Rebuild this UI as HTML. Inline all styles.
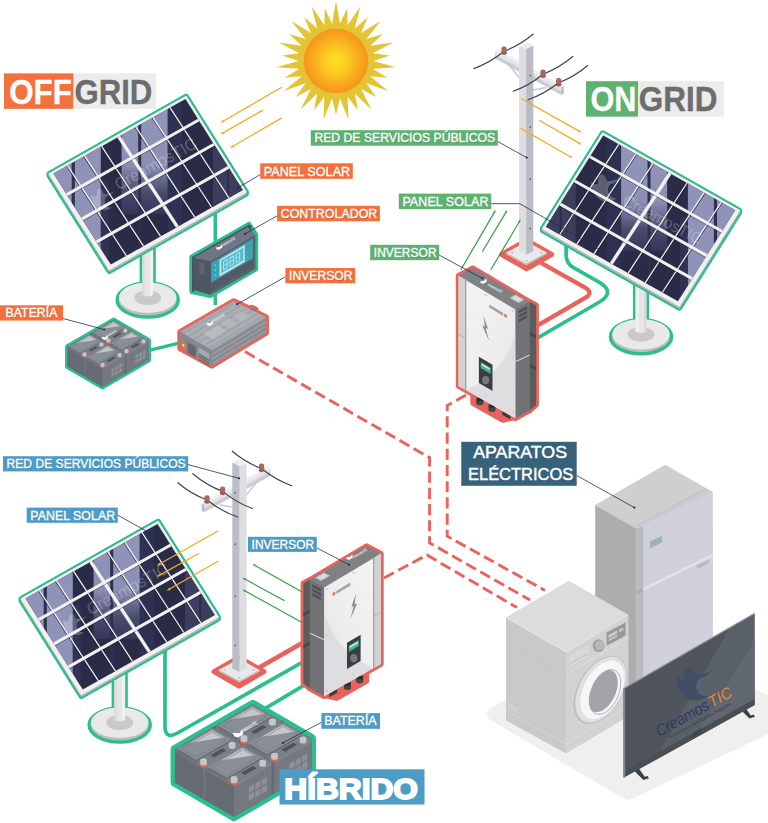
<!DOCTYPE html>
<html lang="es"><head><meta charset="utf-8"><title>Sistemas solares: Off Grid, On Grid, Híbrido</title>
<style>
html,body{margin:0;padding:0;background:#fff;}
body{width:768px;height:823px;overflow:hidden;font-family:"Liberation Sans",sans-serif;}
svg{display:block;}
</style></head><body>
<svg width="768" height="823" viewBox="0 0 768 823">
<defs><clipPath id="cellclip"><polygon points="53.5,173.5 185.5,98.9 242.7,190.0 110.8,264.6"/></clipPath><linearGradient id="band2" x1="0" y1="0" x2="0" y2="1"><stop offset="0" stop-color="#9296bb"/><stop offset="0.55" stop-color="#8b8fb4"/><stop offset="0.8" stop-color="#4a4c6e"/><stop offset="1" stop-color="#34365a"/></linearGradient><g id="panel"><polygon points="49.3,173.8 186.0,96.5 246.0,192.0 246.0,193.8 109.3,271.1 49.3,175.6" fill="#2bbf8f" stroke="#2bbf8f" stroke-width="5.4" stroke-linejoin="round"/><ellipse cx="147.7" cy="300" rx="30.6" ry="17.1" fill="#bcbcbd" stroke="#2bbf8f" stroke-width="3.3"/><ellipse cx="147.7" cy="297.6" rx="28.8" ry="15.3" fill="#e9e9ea"/><ellipse cx="147.7" cy="297.6" rx="13.4" ry="7.5" fill="#c9c9ca"/><rect x="139.6" y="240" width="16.2" height="42.6" fill="#2bbf8f"/><path d="M142.3 240 V294 a5.4 2.6 0 0 0 10.8 0 V240 Z" fill="#e6e6e7"/><path d="M149.9 240 V295.6 a5.4 2.6 0 0 0 3.2 -1.2 V240 Z" fill="#f1f1f2"/><path d="M142.3 240 V294 a5.4 2.6 0 0 0 2.4 1.4 V240 Z" fill="#dadadb"/><polygon points="49.3,173.8 186.0,96.5 246.0,192.0 246.0,193.8 109.3,271.1 49.3,175.6" fill="#2bbf8f" stroke="#2bbf8f" stroke-width="5.4" stroke-linejoin="round"/><polygon points="49.3,173.8 186.0,96.5 246.0,192.0 246.0,193.8 109.3,271.1 49.3,175.6" fill="#b1b1b3" stroke="#b1b1b3" stroke-width="1.4" stroke-linejoin="round"/><polygon points="109.3,269.3 246.0,192.0 246.0,194.5 109.3,271.8" fill="#b6b6b8" /><polygon points="49.3,173.8 186.0,96.5 246.0,192.0 109.3,269.3" fill="#f1f1f2" stroke="#f1f1f2" stroke-width="1.4" stroke-linejoin="round"/><polygon points="53.5,173.5 185.5,98.9 242.7,190.0 110.8,264.6" fill="#2a2b46" /><g clip-path="url(#cellclip)"><rect x="49" y="90" width="51.8" height="200" fill="#8f93b8"/><rect x="71.7" y="90" width="3.1" height="200" fill="#2f3050"/><rect x="121.6" y="104" width="46" height="110" fill="url(#band2)"/><rect x="138.2" y="90" width="3" height="200" fill="#2f3050"/><rect x="168" y="90" width="14" height="200" fill="#34365a" opacity="0.6"/><rect x="213" y="90" width="14.3" height="200" fill="#3c3e5e"/><rect x="228.9" y="90" width="20" height="200" fill="#3c3e5e"/><rect x="100.8" y="180" width="8" height="120" fill="#34365a" opacity="0.7"/></g><line x1="66.6" y1="166.1" x2="125.4" y2="256.3" stroke="#1a1b30" stroke-width="0.9" opacity="0.85"/><line x1="67.5" y1="165.6" x2="126.4" y2="255.8" stroke="#f1f1f2" stroke-width="1.25" /><line x1="83.6" y1="156.5" x2="142.5" y2="246.6" stroke="#1a1b30" stroke-width="0.9" opacity="0.85"/><line x1="84.6" y1="155.9" x2="143.5" y2="246.1" stroke="#f1f1f2" stroke-width="1.25" /><line x1="100.7" y1="146.8" x2="159.6" y2="237.0" stroke="#1a1b30" stroke-width="0.9" opacity="0.85"/><line x1="101.7" y1="146.3" x2="160.5" y2="236.4" stroke="#f1f1f2" stroke-width="1.25" /><line x1="134.9" y1="127.5" x2="193.8" y2="217.6" stroke="#1a1b30" stroke-width="0.9" opacity="0.85"/><line x1="135.8" y1="126.9" x2="194.7" y2="217.1" stroke="#f1f1f2" stroke-width="1.25" /><line x1="152.0" y1="117.8" x2="210.9" y2="208.0" stroke="#1a1b30" stroke-width="0.9" opacity="0.85"/><line x1="152.9" y1="117.3" x2="211.8" y2="207.5" stroke="#f1f1f2" stroke-width="1.25" /><line x1="169.1" y1="108.1" x2="228.0" y2="198.3" stroke="#1a1b30" stroke-width="0.9" opacity="0.85"/><line x1="170.0" y1="107.6" x2="228.9" y2="197.8" stroke="#f1f1f2" stroke-width="1.25" /><line x1="118.7" y1="136.6" x2="177.4" y2="226.9" stroke="#f1f1f2" stroke-width="3.4" /><line x1="67.8" y1="196.2" x2="199.7" y2="121.6" stroke="#1a1b30" stroke-width="0.8" opacity="0.55"/><line x1="66.8" y1="194.6" x2="198.7" y2="120.0" stroke="#f1f1f2" stroke-width="3.0" /><line x1="83.1" y1="220.6" x2="215.0" y2="146.0" stroke="#1a1b30" stroke-width="0.8" opacity="0.55"/><line x1="82.1" y1="218.9" x2="214.0" y2="144.3" stroke="#f1f1f2" stroke-width="3.0" /><line x1="97.6" y1="243.6" x2="229.5" y2="169.0" stroke="#1a1b30" stroke-width="0.8" opacity="0.55"/><line x1="96.6" y1="241.9" x2="228.5" y2="167.4" stroke="#f1f1f2" stroke-width="3.0" /></g><g id="pole"><polygon points="501.6,254.5 526.6,240.1 551.6,254.5 526.6,268.9" fill="#e8635b" stroke="#e8635b" stroke-width="5" stroke-linejoin="round"/><polygon points="506.1,252.7 526.6,263.8 526.6,265.4 506.1,254.3" fill="#c9cacd" /><polygon points="547.1,252.7 526.6,263.8 526.6,265.4 547.1,254.3" fill="#b4b5b9" /><polygon points="506.1,252.7 526.6,241.6 547.1,252.7 526.6,263.8" fill="#e9e9eb" /><ellipse cx="512.1" cy="252.7" rx="1.1" ry="0.7" fill="#a9aaae"/><ellipse cx="541.1" cy="252.7" rx="1.1" ry="0.7" fill="#a9aaae"/><ellipse cx="526.6" cy="260.7" rx="1.1" ry="0.7" fill="#a9aaae"/><ellipse cx="526.6" cy="244.7" rx="1.1" ry="0.7" fill="#a9aaae"/><polygon points="495.0,50.8 561.2,87.3 561.2,90.9 495.0,54.4" fill="#e3e4e8" /><polygon points="495.0,54.4 561.2,90.9 561.2,95.1 495.0,58.6" fill="#cbcdd3" /><polygon points="561.2,87.3 563.8,85.9 563.8,93.5 561.2,95.1" fill="#b9bbc1" /><polygon points="495.0,50.8 497.6,49.2 563.8,85.9 561.2,87.3" fill="#eeeff1" /><line x1="508.5" y1="64.5" x2="519.5" y2="78.0" stroke="#c9cbd0" stroke-width="1.5" /><line x1="533.0" y1="90.0" x2="546.0" y2="87.5" stroke="#c9cbd0" stroke-width="1.5" /><polygon points="519.0,46.0 526.1,48.8 526.1,254.8 519.0,251.2" fill="#dddee2" /><polygon points="526.1,48.8 533.3,45.2 533.3,251.2 526.1,254.8" fill="#bbbdc4" /><polygon points="519.0,46.0 527.6,42.2 533.3,45.2 526.1,48.8" fill="#ededf0" /><ellipse cx="530.3" cy="75.6" rx="0.8" ry="1.0" fill="#5d6068"/><ellipse cx="530.3" cy="127.0" rx="0.8" ry="1.0" fill="#5d6068"/><ellipse cx="530.3" cy="179.0" rx="0.8" ry="1.0" fill="#5d6068"/><ellipse cx="530.3" cy="228.4" rx="0.8" ry="1.0" fill="#5d6068"/><path d="M473.9 68.6 Q490.4 62.5 504.1 51.3 M504.1 51.3 Q520.1 45.2 533.3 34.0" fill="none" stroke="#3e434c" stroke-width="1.15" stroke-linecap="round"/><path d="M513.2 91.3 Q529.5 85.3 543.0 74.2 M543.0 74.2 Q559.3 67.9 572.8 56.5" fill="none" stroke="#3e434c" stroke-width="1.15" stroke-linecap="round"/><path d="M528.0 99.8 Q544.7 93.9 558.5 82.8 M558.5 82.8 Q574.5 76.8 587.7 65.5" fill="none" stroke="#3e434c" stroke-width="1.15" stroke-linecap="round"/><rect x="501.4" y="46.4" width="5.2" height="8.6" rx="2.2" fill="#a3695f"/><rect x="501.0" y="52.6" width="6" height="1" rx="0.5" fill="#8c574e"/><rect x="540.4" y="69.4" width="5.2" height="8.6" rx="2.2" fill="#a3695f"/><rect x="540.0" y="75.6" width="6" height="1" rx="0.5" fill="#8c574e"/><rect x="556.0" y="78.0" width="5.2" height="8.6" rx="2.2" fill="#a3695f"/><rect x="555.6" y="84.2" width="6" height="1" rx="0.5" fill="#8c574e"/></g><linearGradient id="invf" x1="0" y1="0" x2="1" y2="1"><stop offset="0" stop-color="#f4f4f4"/><stop offset="0.6" stop-color="#ededed"/><stop offset="1" stop-color="#e2e2e3"/></linearGradient><clipPath id="invclip"><polygon points="458.6,275.8 515.4,309.5 515.4,418.3 458.6,386.0"/></clipPath><g id="inverter"><path d="M472.8 393.2 l0 10 l30 17 l14 -3 l0 -12z" fill="#e8635b" stroke="#e8635b" stroke-width="5" stroke-linejoin="round"/><polygon points="458.6,275.8 472.8,268.1 529.6,301.8 536.1,305.2 536.1,405.0 529.6,410.6 515.4,418.3 458.6,386.0" fill="#717275" stroke="#e8635b" stroke-width="5.6" stroke-linejoin="round"/><path d="M476.4 397.8 v5 a3.4 2.2 0 0 0 6.8 0 v-5z" fill="#2e2f33"/><ellipse cx="479.8" cy="403.2" rx="3.4" ry="2" fill="#45464b"/><path d="M488.6 404.4 v5 a3.4 2.2 0 0 0 6.8 0 v-5z" fill="#2e2f33"/><ellipse cx="492.0" cy="409.8" rx="3.4" ry="2" fill="#45464b"/><polygon points="502.3,411.3 510.3,415.9 510.3,419.3 502.3,414.7" fill="#3a3b40" /><polygon points="529.6,301.8 536.1,305.2 536.1,405.0 529.6,410.6" fill="#5a5c60" /><polygon points="529.6,331.8 536.1,335.2 536.1,338.2 529.6,334.8" fill="#46484c" /><polygon points="529.6,363.8 536.1,367.2 536.1,370.2 529.6,366.8" fill="#46484c" /><polygon points="515.4,309.5 529.6,301.8 529.6,410.6 515.4,418.3" fill="#717275" /><polygon points="458.6,275.8 472.8,268.1 529.6,301.8 515.4,309.5" fill="#808184" /><polygon points="458.6,275.8 515.4,309.5 515.4,418.3 458.6,386.0" fill="url(#invf)" /><g clip-path="url(#invclip)"><path d="M466.2 390.3 Q505.6 372.4 515.4 333.1 L515.4 418.3 L466.2 390.3 Z" fill="#dedee0"/></g><polygon points="458.6,275.8 465.8,280.1 465.8,390.1 458.6,386.0" fill="#d2d2d4" /><line x1="465.8" y1="280.1" x2="465.8" y2="390.1" stroke="#8f9093" stroke-width="1.0" /><line x1="458.6" y1="334.2" x2="465.8" y2="338.4" stroke="#a5a6a9" stroke-width="0.7" /><line x1="515.4" y1="361.7" x2="529.6" y2="355.1" stroke="#f0f0f0" stroke-width="0.9" /><polygon points="518.6,310.9 527.2,306.2 527.2,308.7 518.6,313.4" fill="#4d4e52" /><polygon points="518.6,315.3 527.2,310.6 527.2,313.1 518.6,317.8" fill="#4d4e52" /><polygon points="518.6,319.7 527.2,315.0 527.2,317.5 518.6,322.2" fill="#4d4e52" /><circle cx="460.8" cy="280.2" r="0.9" fill="#fafafa" stroke="#a9aaad" stroke-width="0.5"/><circle cx="485.9" cy="294.8" r="0.9" fill="#fafafa" stroke="#a9aaad" stroke-width="0.5"/><circle cx="512.8" cy="310.8" r="0.9" fill="#fafafa" stroke="#a9aaad" stroke-width="0.5"/><circle cx="460.8" cy="327.6" r="0.9" fill="#fafafa" stroke="#a9aaad" stroke-width="0.5"/><circle cx="512.8" cy="357.5" r="0.9" fill="#fafafa" stroke="#a9aaad" stroke-width="0.5"/><circle cx="460.8" cy="382.2" r="0.9" fill="#fafafa" stroke="#a9aaad" stroke-width="0.5"/><circle cx="485.9" cy="396.4" r="0.9" fill="#fafafa" stroke="#a9aaad" stroke-width="0.5"/><circle cx="512.8" cy="412.8" r="0.9" fill="#fafafa" stroke="#a9aaad" stroke-width="0.5"/><path d="M483.5 315.7 l4.6 13.2 l-2.4 -0.8 l3.4 13 l-6.8 -15.6 l2.6 0.9z" fill="#8b8c8f"/><polygon points="489.2,304.6 503.2,312.9 503.2,315.9 489.2,307.6" fill="#a2a3a6" /><polygon points="504.3,313.4 506.9,314.9 506.9,318.1 504.3,316.6" fill="#e8703e" /><polygon points="478.9,356.7 492.5,364.7 492.5,390.9 478.9,382.9" fill="#3c3d42" /><polygon points="480.7,361.9 490.7,367.8 490.7,373.9 480.7,368.0" fill="#3fb58e" /><polygon points="481.7,363.5 489.7,368.2 489.7,370.1 481.7,365.4" fill="#c9efe0" /><ellipse cx="485.7" cy="380.1" rx="3.6" ry="4.2" fill="#77787c"/><polygon points="509.5,297.7 515.5,294.5 524.5,299.8 518.5,303.0" fill="#c4c5c7" /><polygon points="511.7,297.9 515.5,295.8 522.1,299.7 518.3,301.8" fill="#dcdcdd" /></g><g id="battery"><polygon points="67.6,346.8 113.7,320.2 148.4,340.4 148.4,360.0 102.4,386.8 67.6,366.5" fill="#2bbf8f" stroke="#2bbf8f" stroke-width="5.2" stroke-linejoin="round"/><polygon points="67.6,346.8 113.7,320.2 148.4,340.4 148.4,360.0 102.4,386.8 67.6,366.5" fill="#5b5f67" /><polygon points="91.5,333.0 108.3,342.8 108.3,362.5 91.5,352.7" fill="#676c74" /><polygon points="108.3,342.8 130.5,330.0 130.5,349.6 108.3,362.5" fill="#747981" /><polygon points="91.5,333.0 108.3,342.8 108.3,344.8 91.5,335.0" fill="#70757d" /><polygon points="108.3,342.8 130.5,330.0 130.5,332.0 108.3,344.8" fill="#7f848c" /><polygon points="91.5,333.0 113.7,320.2 130.5,330.0 108.3,342.8" fill="#7b8088" /><polygon points="93.1,333.8 113.5,322.0 124.6,328.5 104.1,340.3" fill="#646971" /><polygon points="93.1,332.9 113.5,321.1 124.6,327.6 104.1,339.4" fill="#8a8f96" /><polygon points="100.7,329.1 113.4,321.8 120.6,326.0" fill="#c6c7ca" /><polygon points="95.7,332.9 113.5,322.6 121.9,327.6 104.1,337.8" fill="none" stroke="#747981" stroke-width="0.35"/><polygon points="112.5,336.5 119.6,332.4 121.8,333.7 114.7,337.8" fill="#4e535b" /><polygon points="117.2,344.9 120.3,343.1 120.3,346.7 117.2,348.5" fill="#8c9198" /><polygon points="117.2,349.5 120.3,347.7 120.3,351.3 117.2,353.1" fill="#8c9198" /><polygon points="121.0,342.7 124.1,340.9 124.1,344.5 121.0,346.3" fill="#8c9198" /><polygon points="121.0,347.3 124.1,345.5 124.1,349.1 121.0,350.9" fill="#8c9198" /><polygon points="124.7,340.5 127.9,338.7 127.9,342.3 124.7,344.1" fill="#8c9198" /><polygon points="124.7,345.1 127.9,343.3 127.9,346.9 124.7,348.7" fill="#8c9198" /><ellipse cx="108.4" cy="342.0" rx="2.5" ry="1.6" fill="#e8604f"/><path d="M106.4 341.4 v-1.8 a2 1.2 0 0 1 4 0 v1.8 a2 1.2 0 0 1 -4 0z" fill="#c4c6ca"/><path d="M123.3 331.6 v-1.8 a2 1.2 0 0 1 4 0 v1.8 a2 1.2 0 0 1 -4 0z" fill="#c4c6ca"/><polygon points="67.6,346.8 84.4,356.6 84.4,376.3 67.6,366.5" fill="#676c74" /><polygon points="84.4,356.6 106.6,343.8 106.6,363.4 84.4,376.3" fill="#747981" /><polygon points="67.6,346.8 84.4,356.6 84.4,358.6 67.6,348.8" fill="#70757d" /><polygon points="84.4,356.6 106.6,343.8 106.6,345.8 84.4,358.6" fill="#7f848c" /><polygon points="67.6,346.8 89.8,334.0 106.6,343.8 84.4,356.6" fill="#7b8088" /><polygon points="69.2,347.6 89.6,335.8 100.7,342.3 80.2,354.1" fill="#646971" /><polygon points="69.2,346.7 89.6,334.9 100.7,341.4 80.2,353.2" fill="#8a8f96" /><polygon points="76.8,342.9 89.5,335.6 96.7,339.8" fill="#c6c7ca" /><polygon points="71.8,346.7 89.6,336.5 98.0,341.4 80.2,351.6" fill="none" stroke="#747981" stroke-width="0.35"/><polygon points="88.6,350.3 95.7,346.2 97.9,347.5 90.8,351.6" fill="#4e535b" /><polygon points="93.3,358.7 96.4,356.9 96.4,360.5 93.3,362.3" fill="#8c9198" /><polygon points="93.3,363.3 96.4,361.5 96.4,365.1 93.3,366.9" fill="#8c9198" /><polygon points="97.1,356.5 100.2,354.7 100.2,358.3 97.1,360.1" fill="#8c9198" /><polygon points="97.1,361.1 100.2,359.3 100.2,362.9 97.1,364.7" fill="#8c9198" /><polygon points="100.8,354.3 104.0,352.5 104.0,356.1 100.8,357.9" fill="#8c9198" /><polygon points="100.8,358.9 104.0,357.1 104.0,360.7 100.8,362.5" fill="#8c9198" /><ellipse cx="84.5" cy="355.8" rx="2.5" ry="1.6" fill="#e8604f"/><path d="M82.5 355.2 v-1.8 a2 1.2 0 0 1 4 0 v1.8 a2 1.2 0 0 1 -4 0z" fill="#c4c6ca"/><path d="M99.4 345.4 v-1.8 a2 1.2 0 0 1 4 0 v1.8 a2 1.2 0 0 1 -4 0z" fill="#c4c6ca"/><polygon points="109.5,343.6 126.3,353.4 126.3,373.0 109.5,363.2" fill="#676c74" /><polygon points="126.3,353.4 148.6,340.5 148.6,360.2 126.3,373.0" fill="#747981" /><polygon points="109.5,343.6 126.3,353.4 126.3,355.4 109.5,345.6" fill="#70757d" /><polygon points="126.3,353.4 148.6,340.5 148.6,342.5 126.3,355.4" fill="#7f848c" /><polygon points="109.5,343.6 131.8,330.7 148.6,340.5 126.3,353.4" fill="#7b8088" /><polygon points="111.1,344.3 131.6,332.5 142.6,339.0 122.2,350.8" fill="#646971" /><polygon points="111.1,343.4 131.6,331.6 142.6,338.1 122.2,349.9" fill="#8a8f96" /><polygon points="118.7,339.6 131.4,332.3 138.6,336.5" fill="#c6c7ca" /><polygon points="113.8,343.5 131.6,333.2 140.0,338.1 122.2,348.4" fill="none" stroke="#747981" stroke-width="0.35"/><polygon points="130.5,347.0 137.6,342.9 139.8,344.2 132.7,348.3" fill="#4e535b" /><polygon points="135.2,355.4 138.3,353.6 138.3,357.2 135.2,359.0" fill="#8c9198" /><polygon points="135.2,360.0 138.3,358.2 138.3,361.8 135.2,363.6" fill="#8c9198" /><polygon points="139.0,353.3 142.1,351.5 142.1,355.1 139.0,356.9" fill="#8c9198" /><polygon points="139.0,357.9 142.1,356.1 142.1,359.7 139.0,361.5" fill="#8c9198" /><polygon points="142.8,351.1 145.9,349.3 145.9,352.9 142.8,354.7" fill="#8c9198" /><polygon points="142.8,355.7 145.9,353.9 145.9,357.5 142.8,359.3" fill="#8c9198" /><ellipse cx="126.5" cy="352.5" rx="2.5" ry="1.6" fill="#e8604f"/><path d="M124.5 351.9 v-1.8 a2 1.2 0 0 1 4 0 v1.8 a2 1.2 0 0 1 -4 0z" fill="#c4c6ca"/><path d="M141.4 342.2 v-1.8 a2 1.2 0 0 1 4 0 v1.8 a2 1.2 0 0 1 -4 0z" fill="#c4c6ca"/><polygon points="85.6,357.4 102.4,367.2 102.4,386.8 85.6,377.0" fill="#676c74" /><polygon points="102.4,367.2 124.7,354.3 124.7,374.0 102.4,386.8" fill="#747981" /><polygon points="85.6,357.4 102.4,367.2 102.4,369.2 85.6,359.4" fill="#70757d" /><polygon points="102.4,367.2 124.7,354.3 124.7,356.3 102.4,369.2" fill="#7f848c" /><polygon points="85.6,357.4 107.9,344.5 124.7,354.3 102.4,367.2" fill="#7b8088" /><polygon points="87.2,358.2 107.7,346.3 118.7,352.8 98.3,364.6" fill="#646971" /><polygon points="87.2,357.3 107.7,345.4 118.7,351.9 98.3,363.7" fill="#8a8f96" /><polygon points="94.8,353.4 107.5,346.1 114.7,350.3" fill="#c6c7ca" /><polygon points="89.9,357.3 107.7,347.0 116.1,351.9 98.3,362.2" fill="none" stroke="#747981" stroke-width="0.35"/><polygon points="106.6,360.8 113.7,356.7 115.9,358.0 108.8,362.1" fill="#4e535b" /><polygon points="111.3,369.2 114.4,367.4 114.4,371.0 111.3,372.8" fill="#8c9198" /><polygon points="111.3,373.8 114.4,372.0 114.4,375.6 111.3,377.4" fill="#8c9198" /><polygon points="115.1,367.1 118.2,365.3 118.2,368.9 115.1,370.7" fill="#8c9198" /><polygon points="115.1,371.7 118.2,369.9 118.2,373.5 115.1,375.3" fill="#8c9198" /><polygon points="118.9,364.9 122.0,363.1 122.0,366.7 118.9,368.5" fill="#8c9198" /><polygon points="118.9,369.5 122.0,367.7 122.0,371.3 118.9,373.1" fill="#8c9198" /><ellipse cx="102.6" cy="366.3" rx="2.5" ry="1.6" fill="#e8604f"/><path d="M100.6 365.7 v-1.8 a2 1.2 0 0 1 4 0 v1.8 a2 1.2 0 0 1 -4 0z" fill="#c4c6ca"/><path d="M117.5 356.0 v-1.8 a2 1.2 0 0 1 4 0 v1.8 a2 1.2 0 0 1 -4 0z" fill="#c4c6ca"/><path d="M101.6 337.1 l4 0.2 l1.8 -2.2 l0.6 2.8 l-3 2 l-2.2 -0.6z" fill="#fff"/><text transform="translate(107.1 337.3) rotate(-29.5)" font-family="'Liberation Sans',sans-serif" font-style="italic" font-weight="bold" font-size="3.4" fill="#eef0f3" textLength="11" lengthAdjust="spacingAndGlyphs">creamosTIC</text></g><radialGradient id="sung" cx="0.5" cy="0.5" r="0.5"><stop offset="0" stop-color="#fcdf26"/><stop offset="0.3" stop-color="#fbd021"/><stop offset="0.75" stop-color="#f9a81c"/><stop offset="1" stop-color="#f7941d"/></radialGradient><clipPath id="tvclip"><polygon points="623.7,688.5 754.5,613.5 754.5,705.0 623.7,777.6"/></clipPath></defs>
<rect width="768" height="823" fill="#ffffff"/>
<polygon points="332.1,23.7 336.0,1.0 339.9,23.7 347.2,8.2 347.6,25.3 360.4,6.2 354.8,28.5 367.7,17.3 361.1,33.1 380.6,20.9 366.3,39.0 382.8,34.0 370.3,45.7 393.1,42.5 372.7,53.2 389.7,55.4 373.5,61.0 395.7,67.3 372.7,68.8 387.4,77.7 370.3,76.3 388.0,91.0 366.3,83.0 376.1,97.1 361.1,88.9 371.3,109.5 354.8,93.5 358.0,110.3 347.6,96.7 348.5,119.7 339.9,98.3 336.0,115.0 332.1,98.3 323.5,119.7 324.4,96.7 314.0,110.3 317.2,93.5 300.7,109.5 310.9,88.9 295.9,97.1 305.7,83.0 284.0,91.0 301.7,76.3 284.6,77.7 299.3,68.8 276.3,67.3 298.5,61.0 282.3,55.4 299.3,53.2 278.9,42.5 301.7,45.7 289.2,34.0 305.7,39.0 291.4,20.9 310.9,33.1 304.3,17.3 317.2,28.5 311.6,6.2 324.4,25.3 324.8,8.2" fill="#e4c334" /><circle cx="336.0" cy="61.0" r="32.2" fill="url(#sung)"/><polygon points="494.0,714.0 640.0,632.0 790.0,716.0 628.0,793.0" fill="#efefef" stroke="#efefef" stroke-width="14" stroke-linejoin="round"/><polygon points="595.2,505.1 636.8,528.8 636.8,722.0 595.2,700.0" fill="#adadae" /><polygon points="636.8,528.8 712.9,492.1 712.9,660.0 636.8,722.0" fill="#cfd0dc" /><polygon points="636.8,528.8 643.2,525.8 643.2,718.0 636.8,722.0" fill="#b9bac4" /><polygon points="595.2,505.1 665.2,464.7 712.9,492.1 636.8,528.8" fill="#cfcfd0" /><polygon points="636.8,528.8 712.9,492.1 706.2,488.4 636.8,525.6" fill="#c9cad3" /><line x1="636.8" y1="525.6" x2="706.2" y2="488.4" stroke="#b4b8c4" stroke-width="0.7" /><line x1="595.2" y1="505.1" x2="636.8" y2="528.8" stroke="#c2c2c3" stroke-width="0.8" /><polygon points="643.2,587.8 712.9,553.4 712.9,556.6 643.2,591.0" fill="#e2e2e0" /><polygon points="636.8,590.6 643.2,587.6 643.2,591.2 636.8,594.2" fill="#a9abb6" /><polygon points="649.8,541.8 662.0,535.7 662.0,542.5 649.8,548.4" fill="#9db3b4" /><polygon points="696.3,565.0 708.5,559.7 709.3,563.1 697.0,569.2" fill="#b9bac2" /><polygon points="506.0,617.4 566.1,652.1 566.1,753.5 506.0,720.3" fill="#c9c9ca" /><polygon points="566.1,652.1 628.4,614.8 628.4,716.2 566.1,753.5" fill="#d2d2d3" /><polygon points="506.0,617.4 568.8,580.8 628.4,614.8 566.1,652.1" fill="#dcdcdc" /><line x1="506.0" y1="617.4" x2="566.1" y2="652.1" stroke="#e6e6e6" stroke-width="1" /><line x1="566.1" y1="652.1" x2="628.4" y2="614.8" stroke="#e6e6e6" stroke-width="1" /><line x1="566.1" y1="674.6" x2="628.4" y2="637.3" stroke="#dededf" stroke-width="1.2" /><line x1="506.0" y1="642.4" x2="566.1" y2="677.1" stroke="#c0c0c1" stroke-width="0.6" /><line x1="566.1" y1="744.1" x2="628.4" y2="706.8" stroke="#dededf" stroke-width="1.0" /><line x1="506.0" y1="710.4" x2="566.1" y2="744.1" stroke="#d6d6d7" stroke-width="1.0" /><polygon points="508.5,702.0 519.0,708.0 519.0,714.0 508.5,708.0" fill="#cfcfd0" /><polygon points="606.6,632.6 625.6,622.4 625.6,635.6 606.6,645.8" fill="#98989a" /><polygon points="608.6,635.0 617.0,630.4 617.0,633.4 608.6,638.0" fill="#cfcfd0" /><polygon points="608.6,639.0 617.0,634.4 617.0,637.0 608.6,641.6" fill="#c4c4c6" /><polygon points="619.0,629.6 623.4,627.2 623.4,630.0 619.0,632.4" fill="#c4c4c6" /><ellipse cx="598.6" cy="645.6" rx="6" ry="6.4" fill="#a4a4a6"/><ellipse cx="599.6" cy="645.2" rx="4.4" ry="4.8" fill="#b9b9bb"/><polygon points="570.0,655.0 589.0,644.6 589.0,656.0 570.0,666.6" fill="#d8d8d9" /><line x1="571.0" y1="663.0" x2="588.0" y2="653.6" stroke="#b9b9bb" stroke-width="0.8" /><g transform="translate(600.8 689.6) skewY(-29) "><ellipse cx="-0.6" cy="0" rx="26.6" ry="30.6" fill="#bcbcbe"/><ellipse cx="0" cy="0" rx="25.6" ry="29.8" fill="#dfe0e3"/><ellipse cx="1.6" cy="1.2" rx="22.2" ry="26.6" fill="#f6f6f7"/><ellipse cx="4.2" cy="4.7" rx="15.8" ry="20.7" fill="#a2a4a8"/><clipPath id="glassclip"><ellipse cx="4.2" cy="4.7" rx="15.8" ry="20.7"/></clipPath><g clip-path="url(#glassclip)"><ellipse cx="4.2" cy="4.7" rx="15.8" ry="20.7" fill="#f6f6f7"/><ellipse cx="1.6" cy="2.4" rx="15.4" ry="19.4" fill="#a2a4a8"/><rect x="-14" y="-20" width="22" height="30" fill="#a2a4a8"/></g><ellipse cx="4.2" cy="4.7" rx="15.8" ry="20.7" fill="none" stroke="#a9abaf" stroke-width="0.7"/></g><path d="M633.4 770 l10 10 l5.6 -1.8 l-1.4 -2.2 l-2.8 0.8 l-6.6 -9.4z" fill="#3b4047"/><path d="M739.4 708.6 l10 10 l5.6 -1.8 l-1.4 -2.2 l-2.8 0.8 l-6.6 -9.4z" fill="#3b4047"/><polygon points="623.7,688.5 754.5,613.5 754.5,705.0 623.7,777.6" fill="#50555d" /><g clip-path="url(#tvclip)"><polygon points="739.5,610.0 760.0,600.0 760.0,720.0 654.0,762.0" fill="#5a6068" /><polygon points="754.5,640.0 760.0,640.0 760.0,720.0 690.0,745.0" fill="#61676f" /><polygon points="623.7,771.6 754.5,699.0 754.5,706.0 623.7,778.6" fill="#494e55" /></g><line x1="624.2" y1="688.5" x2="624.2" y2="777.6" stroke="#7e858e" stroke-width="2.0" /><line x1="623.7" y1="688.5" x2="754.5" y2="613.5" stroke="#8d949c" stroke-width="1.4" /><path transform="translate(693.8 683.4) scale(1.00)" d="M-18.7,-7.9 C-18,2 -13,12 -5.7,15.6 C1,18 9,16.5 14.1,12.4 C8,13.5 2.5,9 2.5,2.5 C2.5,-1.5 4,-4 6.5,-5 C11,-6.5 15,-9 18.8,-13.1 C13,-10 7,-8.6 0.6,-8.4 C1,-10 0.5,-11.5 -0.5,-12.6 C-1.5,-16 -4,-17.5 -6.5,-16.5 C-9.5,-15 -10.5,-10 -9.8,-5.3 C-12,-4 -15.5,-5 -18.7,-7.9Z" fill="#424e64" /><path transform="translate(693.8 683.4)" d="M6.5,-5 C3.5,-3.5 2.5,0 2.5,2.5 C2.5,9 8,13.5 14.1,12.4 C10,11 7.2,7 7.2,2.6 C7.2,-1 8.6,-3.6 11,-6.3Z" fill="#566279"/><polygon points="692.6,733.0 701.2,728.2 701.2,732.6 692.6,737.4" fill="#40454d" /><g transform="translate(659.2 737.0) rotate(-29.1)"><text x="0" y="0" font-family="'Liberation Sans',sans-serif" font-style="italic" font-size="15.8" fill="#2d3a5e" textLength="58.6" lengthAdjust="spacingAndGlyphs">Creamos</text><text x="60.2" y="0" font-family="'Liberation Sans',sans-serif" font-style="italic" font-size="15.8" fill="#de8a3c" textLength="24.6" lengthAdjust="spacingAndGlyphs">TIC</text><text x="8.4" y="6.8" font-family="'Liberation Sans',sans-serif" font-style="italic" font-size="4.6" fill="#2d3a5e" textLength="70" lengthAdjust="spacingAndGlyphs">Soluciones Avanzadas Seguras</text></g><path d="M245 351.6 L429.6 457.6 V542.8 L530 600" fill="none" stroke="#e8635b" stroke-width="2.9" stroke-dasharray="11.2 5"/><path d="M466 395 L447.2 405.5 V536.2 L545 590.4" fill="none" stroke="#e8635b" stroke-width="2.9" stroke-dasharray="11.2 5"/><path d="M384 578 L426.9 555 L517 607.6" fill="none" stroke="#e8635b" stroke-width="2.9" stroke-dasharray="11.2 5"/><path d="M215.3 205 V305" fill="none" stroke="#2bbf8f" stroke-width="3.6"/><path d="M148 350.6 L182 342.4" fill="none" stroke="#2bbf8f" stroke-width="3.2"/><use href="#panel"/><g opacity="0.24" fill="#ffffff"><path transform="translate(103.0 199.5) scale(0.64)" d="M-18.7,-7.9 C-18,2 -13,12 -5.7,15.6 C1,18 9,16.5 14.1,12.4 C8,13.5 2.5,9 2.5,2.5 C2.5,-1.5 4,-4 6.5,-5 C11,-6.5 15,-9 18.8,-13.1 C13,-10 7,-8.6 0.6,-8.4 C1,-10 0.5,-11.5 -0.5,-12.6 C-1.5,-16 -4,-17.5 -6.5,-16.5 C-9.5,-15 -10.5,-10 -9.8,-5.3 C-12,-4 -15.5,-5 -18.7,-7.9Z" fill="#ffffff" /><g transform="translate(118.4 190.6) rotate(-28.6)"><text x="0" y="0" font-family="'Liberation Sans',sans-serif" font-size="16.4" textLength="91" lengthAdjust="spacingAndGlyphs">CreamosTIC</text><text x="13" y="6.6" font-family="'Liberation Sans',sans-serif" font-size="5" textLength="68" lengthAdjust="spacingAndGlyphs">Soluciones Avanzadas Seguras</text></g></g><polygon points="192.0,257.1 249.0,224.6 255.5,234.7 255.5,268.9 210.2,295.3 192.0,291.4" fill="#4b515d" stroke="#2bbf8f" stroke-width="5.4" stroke-linejoin="round"/><polygon points="192.0,257.1 249.0,224.6 251.4,225.6 251.4,232.1 194.3,264.7 194.3,292.0 192.0,291.4" fill="#4b515d" /><polygon points="193.5,257.9 247.7,226.9 255.5,235.0 210.7,261.6" fill="#6d7684" /><polygon points="193.5,257.9 210.7,261.6 210.7,294.9 193.5,289.7" fill="#4f5562" /><polygon points="199.5,262.1 204.5,263.4 204.5,275.1 199.5,273.5" fill="#5d6472" /><polygon points="210.7,261.6 255.5,235.0 255.5,268.9 210.7,294.9" fill="#5a6270" /><polygon points="211.2,263.1 252.9,238.6 252.9,258.4 211.2,282.4" fill="#3aa3b4" /><polygon points="219.5,259.7 244.8,244.9 244.8,261.8 219.5,276.4" fill="#bfeaf0" /><polygon points="221.1,260.5 243.3,247.8 243.3,260.5 221.1,273.3" fill="#56bccb" /><path d="M223.6 261.4 l3.6 -2.1 v8.4 l-3.6 2.1z" fill="none" stroke="#d9f6fa" stroke-width="0.7"/><line x1="223.6" y1="265.6" x2="227.3" y2="263.5" stroke="#d9f6fa" stroke-width="0.6" /><path d="M229.9 257.9 l3.6 -2.1 v8.4 l-3.6 2.1z" fill="none" stroke="#d9f6fa" stroke-width="0.7"/><line x1="229.9" y1="262.0" x2="233.5" y2="259.9" stroke="#d9f6fa" stroke-width="0.6" /><path d="M236.1 254.3 l3.6 -2.1 v8.4 l-3.6 2.1z" fill="none" stroke="#d9f6fa" stroke-width="0.7"/><line x1="236.1" y1="258.4" x2="239.8" y2="256.4" stroke="#d9f6fa" stroke-width="0.6" /><circle cx="247.7" cy="247.1" r="0.9" fill="#e6604f"/><circle cx="247.7" cy="252.3" r="0.9" fill="#d98a7a"/><circle cx="247.7" cy="257.5" r="0.9" fill="#d98a7a"/><circle cx="215.4" cy="265.3" r="0.8" fill="#8fd3dd"/><circle cx="215.4" cy="270.3" r="0.8" fill="#8fd3dd"/><circle cx="215.4" cy="275.2" r="0.8" fill="#8fd3dd"/><path d="M215.5 247.4 l4.2 -0.4 l2.4 -2.8 l0.2 3.4 l-3.2 2.2 l-2 -0.4z" fill="#fff"/><text transform="translate(222.3 246.7) rotate(-30)" font-family="'Liberation Sans',sans-serif" font-style="italic" font-weight="bold" font-size="4" fill="#eef0f3" textLength="15.5" lengthAdjust="spacingAndGlyphs">creamosTIC</text><polygon points="211.2,282.9 252.9,259.0 252.9,267.3 211.2,291.2" fill="#525a67" /><polygon points="180.0,331.8 233.8,300.9 249.1,308.3 251.9,307.5 255.7,309.2 256.8,312.3 266.3,317.2 266.3,333.0 211.8,365.9 180.0,348.6" fill="#8f9399" stroke="#e8635b" stroke-width="5.4" stroke-linejoin="round"/><polygon points="249.1,308.6 251.9,307.8 255.4,309.3 256.5,312.3 253.1,311.5" fill="#7b8087" /><polygon points="180.0,331.8 233.8,300.9 266.3,317.2 211.8,350.2" fill="#a7abb0" /><line x1="182.7" y1="333.4" x2="236.5" y2="302.2" stroke="#95999f" stroke-width="0.6" /><line x1="185.3" y1="334.9" x2="239.2" y2="303.6" stroke="#b6b9bd" stroke-width="0.6" /><line x1="188.0" y1="336.4" x2="241.9" y2="305.0" stroke="#95999f" stroke-width="0.6" /><line x1="190.6" y1="337.9" x2="244.6" y2="306.3" stroke="#b6b9bd" stroke-width="0.6" /><line x1="193.3" y1="339.5" x2="247.3" y2="307.7" stroke="#95999f" stroke-width="0.6" /><line x1="195.9" y1="341.0" x2="250.0" y2="309.1" stroke="#b6b9bd" stroke-width="0.6" /><line x1="198.6" y1="342.5" x2="252.7" y2="310.4" stroke="#95999f" stroke-width="0.6" /><line x1="201.2" y1="344.1" x2="255.4" y2="311.8" stroke="#b6b9bd" stroke-width="0.6" /><line x1="203.9" y1="345.6" x2="258.1" y2="313.1" stroke="#95999f" stroke-width="0.6" /><line x1="206.5" y1="347.1" x2="260.9" y2="314.5" stroke="#b6b9bd" stroke-width="0.6" /><line x1="209.2" y1="348.6" x2="263.6" y2="315.9" stroke="#95999f" stroke-width="0.6" /><polygon points="203.1,333.8 217.2,325.5 226.8,330.8 212.7,339.2" fill="#b9bcc0" /><polygon points="220.4,323.6 229.0,318.6 238.7,323.7 230.0,328.8" fill="#b3b6ba" /><polygon points="232.3,316.6 240.9,311.6 250.7,316.5 242.0,321.7" fill="#b3b6ba" /><path d="M206.0 323.2 l4.6 -0.2 l2.2 -2.6 l0.4 3.2 l-3.4 2.4 l-2.2 -0.6z" fill="#fff"/><text transform="translate(212.5 322.8) rotate(-29.5)" font-family="'Liberation Sans',sans-serif" font-style="italic" font-weight="bold" font-size="4" fill="#eef0f3" textLength="14.5" lengthAdjust="spacingAndGlyphs">creamosTIC</text><polygon points="211.8,350.2 266.3,317.2 266.3,333.0 211.8,365.9" fill="#8f9399" /><line x1="211.8" y1="352.4" x2="266.3" y2="319.5" stroke="#777b82" stroke-width="0.6" /><line x1="211.8" y1="354.7" x2="266.3" y2="321.7" stroke="#a3a6ab" stroke-width="0.6" /><line x1="211.8" y1="356.9" x2="266.3" y2="324.0" stroke="#777b82" stroke-width="0.6" /><line x1="211.8" y1="359.2" x2="266.3" y2="326.2" stroke="#a3a6ab" stroke-width="0.6" /><line x1="211.8" y1="361.4" x2="266.3" y2="328.5" stroke="#777b82" stroke-width="0.6" /><line x1="211.8" y1="363.7" x2="266.3" y2="330.7" stroke="#a3a6ab" stroke-width="0.6" /><polygon points="180.0,331.8 211.8,350.2 211.8,365.9 180.0,347.6" fill="#858a91" /><polygon points="181.5,339.4 185.1,341.5 185.1,350.0 181.5,347.9" fill="#e8703e" /><polygon points="182.3,343.6 184.3,344.8 184.3,347.0 182.3,345.8" fill="#fbe3d6" /><polygon points="187.5,341.9 195.9,346.8 195.9,357.9 187.5,353.0" fill="#646971" /><polygon points="198.7,347.6 209.1,353.6 209.1,358.8 198.7,352.8" fill="#a6aaaf" /><line x1="199.1" y1="354.8" x2="208.9" y2="360.5" stroke="#5b6068" stroke-width="0.9" /><line x1="199.1" y1="357.2" x2="208.9" y2="362.9" stroke="#5b6068" stroke-width="0.9" /><line x1="199.1" y1="359.6" x2="208.9" y2="365.3" stroke="#5b6068" stroke-width="0.9" /><use href="#battery"/><path d="M541 262.8 L584.7 287.3 Q594.3 292.7 584.7 298.2 L536 326.4" fill="none" stroke="#e8635b" stroke-width="4.4"/><path d="M566.1 240 V254.5 Q566.1 263.6 573.5 267.7 L598.6 281.9 Q616.6 292.1 598.6 302.5 L536 338.9" fill="none" stroke="#2bbf8f" stroke-width="3.7"/><use href="#pole"/><use href="#panel" transform="translate(788.7 36.7) scale(-1 1)"/><g opacity="0.24" fill="#ffffff"><path transform="translate(606.0 188.0) scale(0.80)" d="M-18.7,-7.9 C-18,2 -13,12 -5.7,15.6 C1,18 9,16.5 14.1,12.4 C8,13.5 2.5,9 2.5,2.5 C2.5,-1.5 4,-4 6.5,-5 C11,-6.5 15,-9 18.8,-13.1 C13,-10 7,-8.6 0.6,-8.4 C1,-10 0.5,-11.5 -0.5,-12.6 C-1.5,-16 -4,-17.5 -6.5,-16.5 C-9.5,-15 -10.5,-10 -9.8,-5.3 C-12,-4 -15.5,-5 -18.7,-7.9Z" fill="#ffffff" /><g transform="translate(621.4 204.6) rotate(27.5)"><text x="0" y="0" font-family="'Liberation Sans',sans-serif" font-size="16.4" textLength="87" lengthAdjust="spacingAndGlyphs">CreamosTIC</text><text x="13" y="6.6" font-family="'Liberation Sans',sans-serif" font-size="5" textLength="68" lengthAdjust="spacingAndGlyphs">Soluciones Avanzadas Seguras</text></g></g><use href="#inverter"/><path d="M479.8 281.4 l4.4 -0.6 l2.2 -2.6 l0.4 3.2 l-3.2 2.4 l-2.2 -0.4z" fill="#fff"/><text transform="translate(487.6 285.4) rotate(30.6)" font-family="'Liberation Sans',sans-serif" font-style="italic" font-weight="bold" font-size="4.2" fill="#e9e9e9" textLength="16" lengthAdjust="spacingAndGlyphs">creamosTIC</text><path d="M165 640 V726 Q165 740.1 177.5 733 L304 661.3" fill="none" stroke="#2bbf8f" stroke-width="3.7"/><path d="M262 710.4 L306 684.2" fill="none" stroke="#2bbf8f" stroke-width="3.7"/><path d="M258 668.2 L304 642.1" fill="none" stroke="#e8635b" stroke-width="4.6"/><use href="#panel" transform="translate(-28 425)"/><g opacity="0.24" fill="#ffffff"><path transform="translate(75.0 624.5) scale(0.64)" d="M-18.7,-7.9 C-18,2 -13,12 -5.7,15.6 C1,18 9,16.5 14.1,12.4 C8,13.5 2.5,9 2.5,2.5 C2.5,-1.5 4,-4 6.5,-5 C11,-6.5 15,-9 18.8,-13.1 C13,-10 7,-8.6 0.6,-8.4 C1,-10 0.5,-11.5 -0.5,-12.6 C-1.5,-16 -4,-17.5 -6.5,-16.5 C-9.5,-15 -10.5,-10 -9.8,-5.3 C-12,-4 -15.5,-5 -18.7,-7.9Z" fill="#ffffff" /><g transform="translate(90.4 615.6) rotate(-28.6)"><text x="0" y="0" font-family="'Liberation Sans',sans-serif" font-size="16.4" textLength="91" lengthAdjust="spacingAndGlyphs">CreamosTIC</text><text x="13" y="6.6" font-family="'Liberation Sans',sans-serif" font-size="5" textLength="68" lengthAdjust="spacingAndGlyphs">Soluciones Avanzadas Seguras</text></g></g><use href="#pole" transform="translate(765.6 417.2) scale(-1 1)"/><use href="#inverter" transform="translate(839.5 278) scale(-1 1)"/><path d="M345.8 557.4 l4.4 -0.6 l2.2 -2.6 l0.4 3.2 l-3.2 2.4 l-2.2 -0.4z" fill="#fff"/><text transform="translate(353.6 558.6) rotate(-30.6)" font-family="'Liberation Sans',sans-serif" font-style="italic" font-weight="bold" font-size="4.2" fill="#e9e9e9" textLength="16" lengthAdjust="spacingAndGlyphs">creamosTIC</text><use href="#battery" transform="translate(170.6 699.2) scale(1.69) translate(-65 -317.2)"/><line x1="281.8" y1="87.2" x2="223.9" y2="120.8" stroke="#f2ab1f" stroke-width="1.25" /><polygon points="220.6,122.7 223.2,119.6 224.6,122.0" fill="#f2ab1f" /><line x1="262.9" y1="110.1" x2="223.5" y2="132.6" stroke="#f2ab1f" stroke-width="1.25" /><polygon points="220.2,134.5 222.8,131.4 224.2,133.8" fill="#f2ab1f" /><line x1="281.8" y1="117.9" x2="233.3" y2="146.0" stroke="#f2ab1f" stroke-width="1.25" /><polygon points="230.0,147.9 232.6,144.8 234.0,147.2" fill="#f2ab1f" /><line x1="520.7" y1="98.2" x2="578.6" y2="130.9" stroke="#f2ab1f" stroke-width="1.25" /><polygon points="581.9,132.8 577.9,132.1 579.3,129.7" fill="#f2ab1f" /><line x1="539.0" y1="120.3" x2="578.6" y2="142.9" stroke="#f2ab1f" stroke-width="1.25" /><polygon points="581.9,144.8 577.9,144.1 579.3,141.7" fill="#f2ab1f" /><line x1="520.7" y1="128.4" x2="569.5" y2="156.2" stroke="#f2ab1f" stroke-width="1.25" /><polygon points="572.8,158.1 568.8,157.4 570.2,155.0" fill="#f2ab1f" /><line x1="218.3" y1="530.7" x2="160.0" y2="563.8" stroke="#f2ab1f" stroke-width="1.25" /><polygon points="156.7,565.7 159.3,562.6 160.7,565.0" fill="#f2ab1f" /><line x1="199.3" y1="553.3" x2="160.0" y2="574.9" stroke="#f2ab1f" stroke-width="1.25" /><polygon points="156.7,576.7 159.4,573.7 160.7,576.1" fill="#f2ab1f" /><line x1="218.3" y1="561.0" x2="170.0" y2="588.8" stroke="#f2ab1f" stroke-width="1.25" /><polygon points="166.7,590.7 169.3,587.6 170.7,590.0" fill="#f2ab1f" /><line x1="460.7" y1="270.0" x2="494.0" y2="212.9" stroke="#2f9e3e" stroke-width="1.15" /><polygon points="495.7,210.0 495.0,213.6 492.9,212.3" fill="#2f9e3e" /><line x1="482.3" y1="251.7" x2="505.6" y2="212.9" stroke="#2f9e3e" stroke-width="1.15" /><polygon points="507.3,210.0 506.6,213.5 504.5,212.3" fill="#2f9e3e" /><line x1="490.7" y1="270.0" x2="519.0" y2="222.2" stroke="#2f9e3e" stroke-width="1.15" /><polygon points="520.7,219.3 520.0,222.8 517.9,221.6" fill="#2f9e3e" /><line x1="302.1" y1="592.1" x2="255.5" y2="565.7" stroke="#2f9e3e" stroke-width="1.15" /><polygon points="252.5,564.0 256.1,564.6 254.9,566.7" fill="#2f9e3e" /><line x1="284.5" y1="600.7" x2="245.3" y2="579.3" stroke="#2f9e3e" stroke-width="1.15" /><polygon points="242.3,577.7 245.9,578.3 244.7,580.4" fill="#2f9e3e" /><line x1="302.1" y1="622.6" x2="245.3" y2="591.1" stroke="#2f9e3e" stroke-width="1.15" /><polygon points="242.3,589.4 245.9,590.0 244.7,592.1" fill="#2f9e3e" /><polyline points="260.2,174.6 237.7,187.9" fill="none" stroke="#22304a" stroke-width="0.8"/><circle cx="237.7" cy="187.9" r="1.1" fill="#22304a"/><polyline points="277.6,215.6 245.0,233.9" fill="none" stroke="#22304a" stroke-width="0.8"/><circle cx="245.0" cy="233.9" r="1.1" fill="#22304a"/><polyline points="285.4,276.8 237.2,304.2" fill="none" stroke="#22304a" stroke-width="0.8"/><circle cx="237.2" cy="304.2" r="1.1" fill="#22304a"/><polyline points="63.0,318.5 104.2,329.5" fill="none" stroke="#22304a" stroke-width="0.8"/><circle cx="104.2" cy="329.5" r="1.1" fill="#22304a"/><polyline points="497.8,141.6 526.7,157.6" fill="none" stroke="#22304a" stroke-width="0.8"/><circle cx="526.7" cy="157.6" r="1.1" fill="#22304a"/><polyline points="491.0,203.7 519.8,203.7 604.8,252.5" fill="none" stroke="#22304a" stroke-width="0.8"/><circle cx="604.8" cy="252.5" r="1.1" fill="#22304a"/><polyline points="439.0,255.0 482.3,278.3" fill="none" stroke="#22304a" stroke-width="0.8"/><circle cx="482.3" cy="278.3" r="1.1" fill="#22304a"/><polyline points="188.0,464.6 239.0,478.3" fill="none" stroke="#22304a" stroke-width="0.8"/><circle cx="239.0" cy="478.3" r="1.1" fill="#22304a"/><polyline points="117.8,515.2 153.3,535.0" fill="none" stroke="#22304a" stroke-width="0.8"/><circle cx="153.3" cy="535.0" r="1.1" fill="#22304a"/><polyline points="316.8,547.8 349.0,564.8" fill="none" stroke="#22304a" stroke-width="0.8"/><circle cx="349.0" cy="564.8" r="1.1" fill="#22304a"/><polyline points="321.8,722.1 282.9,742.9" fill="none" stroke="#22304a" stroke-width="0.8"/><circle cx="282.9" cy="742.9" r="1.1" fill="#22304a"/><polyline points="576.7,475.5 634.4,507.6" fill="none" stroke="#22304a" stroke-width="0.8"/><circle cx="634.4" cy="507.6" r="1.1" fill="#22304a"/><rect x="260.2" y="163.3" width="92.6" height="15.5" fill="#f2713d"/><text x="264.3" y="176.2" font-family="'Liberation Sans',sans-serif" font-size="12.7" font-weight="normal" textLength="86.4" lengthAdjust="spacingAndGlyphs" fill="#000" opacity="0.22">PANEL SOLAR</text><text x="263.8" y="175.5" font-family="'Liberation Sans',sans-serif" font-size="12.7" font-weight="normal" textLength="86.4" lengthAdjust="spacingAndGlyphs" fill="#fff" stroke="#fff" stroke-width="0.35">PANEL SOLAR</text><rect x="277.1" y="205.8" width="102.8" height="15.5" fill="#f2713d"/><text x="281.2" y="218.7" font-family="'Liberation Sans',sans-serif" font-size="12.7" font-weight="normal" textLength="96.6" lengthAdjust="spacingAndGlyphs" fill="#000" opacity="0.22">CONTROLADOR</text><text x="280.7" y="218.0" font-family="'Liberation Sans',sans-serif" font-size="12.7" font-weight="normal" textLength="96.6" lengthAdjust="spacingAndGlyphs" fill="#fff" stroke="#fff" stroke-width="0.35">CONTROLADOR</text><rect x="285.4" y="268.0" width="69.8" height="15.3" fill="#f2713d"/><text x="289.5" y="280.8" font-family="'Liberation Sans',sans-serif" font-size="12.7" font-weight="normal" textLength="63.6" lengthAdjust="spacingAndGlyphs" fill="#000" opacity="0.22">INVERSOR</text><text x="289.0" y="280.1" font-family="'Liberation Sans',sans-serif" font-size="12.7" font-weight="normal" textLength="63.6" lengthAdjust="spacingAndGlyphs" fill="#fff" stroke="#fff" stroke-width="0.35">INVERSOR</text><rect x="0.0" y="305.3" width="63.0" height="15.3" fill="#f2713d"/><text x="6.1" y="318.1" font-family="'Liberation Sans',sans-serif" font-size="12.7" font-weight="normal" textLength="51.8" lengthAdjust="spacingAndGlyphs" fill="#000" opacity="0.22">BATERÍA</text><text x="5.6" y="317.4" font-family="'Liberation Sans',sans-serif" font-size="12.7" font-weight="normal" textLength="51.8" lengthAdjust="spacingAndGlyphs" fill="#fff" stroke="#fff" stroke-width="0.35">BATERÍA</text><rect x="310.8" y="130.2" width="187.0" height="15.5" fill="#5eb270"/><text x="314.9" y="143.1" font-family="'Liberation Sans',sans-serif" font-size="12.7" font-weight="normal" textLength="180.8" lengthAdjust="spacingAndGlyphs" fill="#000" opacity="0.22">RED DE SERVICIOS PÚBLICOS</text><text x="314.4" y="142.4" font-family="'Liberation Sans',sans-serif" font-size="12.7" font-weight="normal" textLength="180.8" lengthAdjust="spacingAndGlyphs" fill="#fff" stroke="#fff" stroke-width="0.35">RED DE SERVICIOS PÚBLICOS</text><rect x="398.8" y="193.6" width="92.4" height="15.4" fill="#5eb270"/><text x="402.9" y="206.4" font-family="'Liberation Sans',sans-serif" font-size="12.7" font-weight="normal" textLength="86.2" lengthAdjust="spacingAndGlyphs" fill="#000" opacity="0.22">PANEL SOLAR</text><text x="402.4" y="205.7" font-family="'Liberation Sans',sans-serif" font-size="12.7" font-weight="normal" textLength="86.2" lengthAdjust="spacingAndGlyphs" fill="#fff" stroke="#fff" stroke-width="0.35">PANEL SOLAR</text><rect x="370.2" y="244.8" width="69.0" height="15.4" fill="#5eb270"/><text x="374.3" y="257.6" font-family="'Liberation Sans',sans-serif" font-size="12.7" font-weight="normal" textLength="62.8" lengthAdjust="spacingAndGlyphs" fill="#000" opacity="0.22">INVERSOR</text><text x="373.8" y="256.9" font-family="'Liberation Sans',sans-serif" font-size="12.7" font-weight="normal" textLength="62.8" lengthAdjust="spacingAndGlyphs" fill="#fff" stroke="#fff" stroke-width="0.35">INVERSOR</text><rect x="3.0" y="456.2" width="185.2" height="15.2" fill="#4d9cc6"/><text x="7.1" y="468.9" font-family="'Liberation Sans',sans-serif" font-size="12.7" font-weight="normal" textLength="179.0" lengthAdjust="spacingAndGlyphs" fill="#000" opacity="0.22">RED DE SERVICIOS PÚBLICOS</text><text x="6.6" y="468.2" font-family="'Liberation Sans',sans-serif" font-size="12.7" font-weight="normal" textLength="179.0" lengthAdjust="spacingAndGlyphs" fill="#fff" stroke="#fff" stroke-width="0.35">RED DE SERVICIOS PÚBLICOS</text><rect x="26.7" y="507.6" width="91.1" height="15.2" fill="#4d9cc6"/><text x="30.8" y="520.3" font-family="'Liberation Sans',sans-serif" font-size="12.7" font-weight="normal" textLength="84.9" lengthAdjust="spacingAndGlyphs" fill="#000" opacity="0.22">PANEL SOLAR</text><text x="30.3" y="519.6" font-family="'Liberation Sans',sans-serif" font-size="12.7" font-weight="normal" textLength="84.9" lengthAdjust="spacingAndGlyphs" fill="#fff" stroke="#fff" stroke-width="0.35">PANEL SOLAR</text><rect x="248.0" y="536.8" width="68.8" height="15.1" fill="#4d9cc6"/><text x="252.1" y="549.5" font-family="'Liberation Sans',sans-serif" font-size="12.7" font-weight="normal" textLength="62.6" lengthAdjust="spacingAndGlyphs" fill="#000" opacity="0.22">INVERSOR</text><text x="251.6" y="548.8" font-family="'Liberation Sans',sans-serif" font-size="12.7" font-weight="normal" textLength="62.6" lengthAdjust="spacingAndGlyphs" fill="#fff" stroke="#fff" stroke-width="0.35">INVERSOR</text><rect x="321.4" y="713.1" width="58.7" height="15.7" fill="#4d9cc6"/><text x="324.7" y="726.1" font-family="'Liberation Sans',sans-serif" font-size="12.7" font-weight="normal" textLength="52.5" lengthAdjust="spacingAndGlyphs" fill="#000" opacity="0.22">BATERÍA</text><text x="324.2" y="725.4" font-family="'Liberation Sans',sans-serif" font-size="12.7" font-weight="normal" textLength="52.5" lengthAdjust="spacingAndGlyphs" fill="#fff" stroke="#fff" stroke-width="0.35">BATERÍA</text><rect x="4" y="73.4" width="152" height="35.4" fill="#ececec"/><rect x="4" y="73.4" width="69.3" height="35.4" fill="#f2713d"/><text x="9.2" y="103.5" font-family="'Liberation Sans',sans-serif" font-weight="bold" font-size="34.3" fill="#fff" stroke="#fff" stroke-width="0.3" textLength="62.6" lengthAdjust="spacingAndGlyphs">OFF</text><text x="74.4" y="103.5" font-family="'Liberation Sans',sans-serif" font-weight="bold" font-size="34.3" fill="#6d6d6d" stroke="#6d6d6d" stroke-width="0.3" textLength="78" lengthAdjust="spacingAndGlyphs">GRID</text><rect x="586" y="81.2" width="138" height="35.4" fill="#ececec"/><rect x="586" y="81.2" width="52" height="35.4" fill="#5eb270"/><text x="590.4" y="111.3" font-family="'Liberation Sans',sans-serif" font-weight="bold" font-size="34.3" fill="#fff" stroke="#fff" stroke-width="0.3" textLength="46" lengthAdjust="spacingAndGlyphs">ON</text><text x="638.8" y="111.3" font-family="'Liberation Sans',sans-serif" font-weight="bold" font-size="34.3" fill="#6d6d6d" stroke="#6d6d6d" stroke-width="0.4" textLength="78.6" lengthAdjust="spacingAndGlyphs">GRID</text><rect x="279.5" y="769.3" width="145" height="35.2" fill="#4d9cc6"/><text x="284.3" y="799.3" font-family="'Liberation Sans',sans-serif" font-weight="bold" font-size="29.2" fill="#fff" stroke="#fff" stroke-width="1.8" textLength="133.6" lengthAdjust="spacingAndGlyphs">HÍBRIDO</text><rect x="461.3" y="441.8" width="115.4" height="44" fill="#36627c"/><text x="473.2" y="458.2" font-family="'Liberation Sans',sans-serif" font-size="16.6" fill="#fff" stroke="#fff" stroke-width="0.45" textLength="93.8" lengthAdjust="spacingAndGlyphs">APARATOS</text><text x="468" y="480.4" font-family="'Liberation Sans',sans-serif" font-size="16.6" fill="#fff" stroke="#fff" stroke-width="0.45" textLength="105.2" lengthAdjust="spacingAndGlyphs">ELÉCTRICOS</text>
</svg>
</body></html>
